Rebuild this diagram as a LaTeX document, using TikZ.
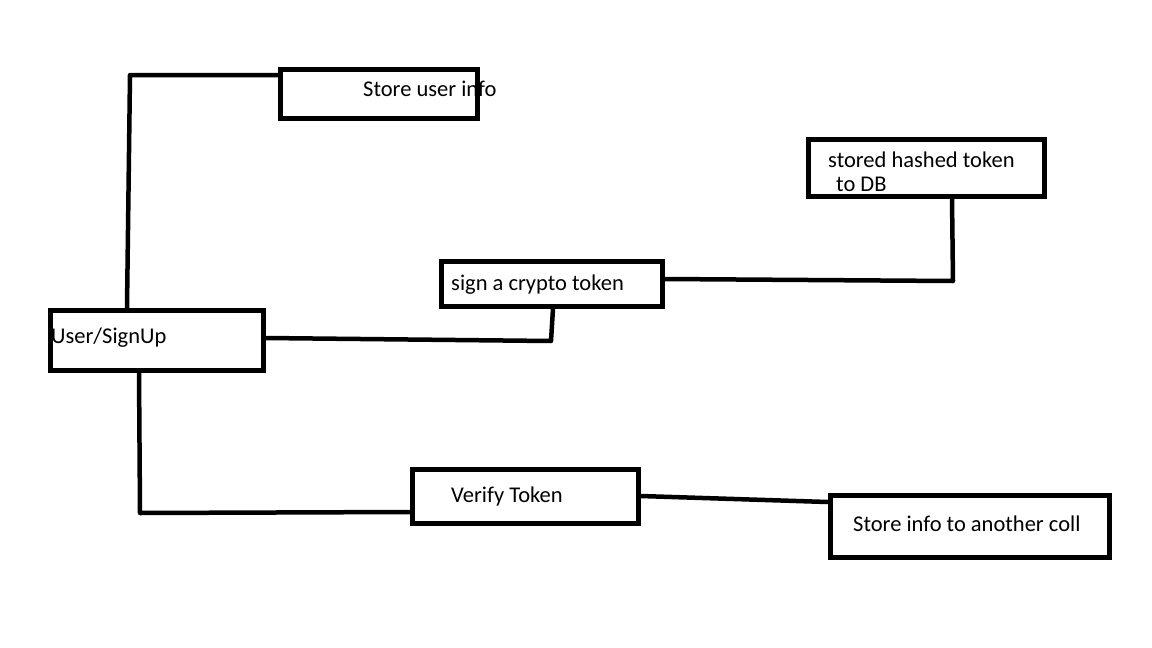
\documentclass[tikz,border=0pt]{standalone}
\usepackage{fontspec}
\setmainfont{Carlito}
\begin{document}
\begin{tikzpicture}[x=1pt,y=-1pt,
  box/.style={draw=black,line width=5pt,rectangle,inner sep=0pt,fill=none},
  lbl/.style={anchor=west,inner sep=0pt,font=\fontsize{22.5}{27}\selectfont,text=black},
  conn/.style={draw=black,line width=4.5pt,line cap=round,line join=round}]
\useasboundingbox[fill=white] (0,0) rectangle (1152,648);
% boxes
\node[box,minimum width=197pt,minimum height=49pt] (info) at (378.5,93.5) {};
\node[box,minimum width=236pt,minimum height=57pt] (hashed) at (926,167.5) {};
\node[box,minimum width=221pt,minimum height=45pt] (sign) at (551.5,283.5) {};
\node[box,minimum width=213pt,minimum height=60pt] (user) at (156.5,340) {};
\node[box,minimum width=226pt,minimum height=54pt] (verify) at (525,496) {};
\node[box,minimum width=279pt,minimum height=62pt] (coll) at (969.5,526) {};
% labels
\node[lbl] (tinfo) at (363,89) {Store user info};
\node[lbl] (thashed1) at (828,160) {stored hashed token};
\node[lbl] (thashed2) at (836,184) {to DB};
\node[lbl] (tsign) at (451,285) {sign a crypto token};
\node[lbl] (tuser) at (51,338) {User/SignUp};
\node[lbl] (tverify) at (451,496) {Verify Token};
\node[lbl] (tcoll) at (853,524) {Store info to another coll};
% connectors
\coordinate (b1) at (130,75);
\draw[conn] (user.north -| 127,0) -- (b1) -- (b1 -| info.west);
\coordinate (b2) at (551,341);
\draw[conn] (user.east |- 0,338) -- (b2) -- (sign.south -| 553,0);
\coordinate (b3) at (953,281);
\draw[conn] (sign.east |- 0,279) -- (b3) -- (hashed.south -| 952,0);
\coordinate (b4) at (140,513);
\draw[conn] (user.south -| 139,0) -- (b4) -- (verify.west |- 0,512);
\draw[conn] (verify.east |- 0,496) -- (coll.west |- 0,502);
\end{tikzpicture}
\end{document}
